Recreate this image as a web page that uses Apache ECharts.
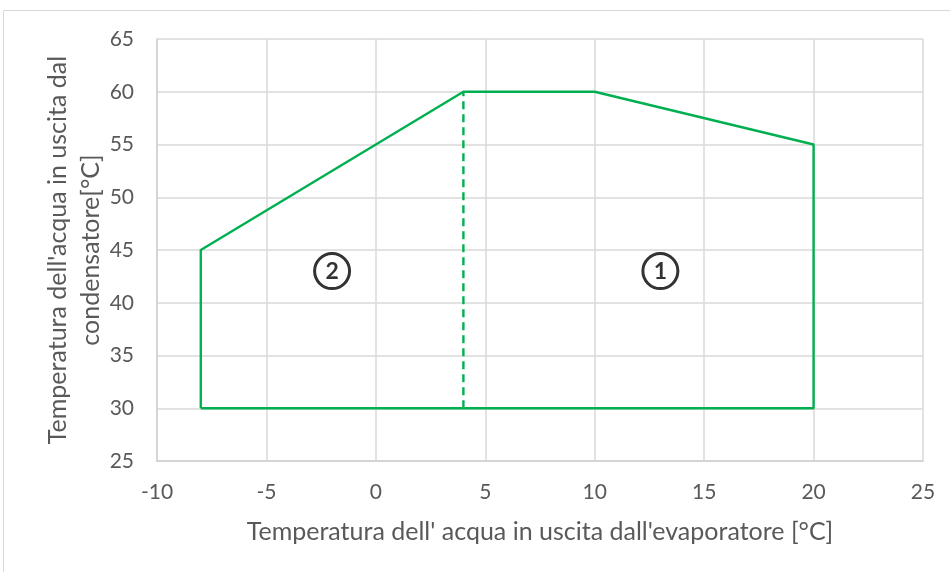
<!DOCTYPE html>
<html>
<head>
<meta charset="utf-8">
<script src="https://cdn.jsdelivr.net/npm/echarts@6/dist/echarts.min.js"></script>
<style>
  html, body { margin: 0; padding: 0; background: #fff; }
  #chart { width: 950px; height: 572px; }
</style>
</head>
<body>
<div id="chart"></div>
<script>
// Operating envelope outline (evaporator outlet temperature, condenser outlet temperature)
const envelopeX = [-8, -8, 4, 10, 20, 20, -8];
const envelopeY = [30, 45, 60, 60, 55, 30, 30];
// Boundary between zone 2 and zone 1
const dividerX = [4, 4];
const dividerY = [30, 60];
// Zone markers
const zoneLabels = ['2', '1'];
const zoneX = [-2, 13];
const zoneY = [43, 43];

const xTitle = "Temperatura dell' acqua in uscita dall'evaporatore [°C]";
const yTitle = "Temperatura dell'acqua in uscita dal\ncondensatore[°C]";

const font = 'Lato, "Open Sans", sans-serif';
const green = '#00B050';

const chart = echarts.init(document.getElementById('chart'));
chart.setOption({
  animation: false,
  backgroundColor: '#fff',
  graphic: [{
    type: 'rect',
    shape: { x: 3.5, y: 10.5, width: 960, height: 580 },
    style: { fill: 'none', stroke: '#d9d9d9', lineWidth: 1 },
    silent: true, z: -10
  }],
  grid: { left: 157, right: 27, top: 39, bottom: 111 },
  xAxis: {
    type: 'value', min: -10, max: 25, interval: 5,
    name: xTitle, nameLocation: 'middle', nameGap: 58,
    nameMoveOverlap: false,
    nameTextStyle: { color: '#595959', fontSize: 25, fontFamily: font },
    axisLine: { show: true, onZero: false, lineStyle: { color: '#d0d0d0', width: 1.5 } },
    axisTick: { show: false },
    axisLabel: { color: '#595959', fontSize: 21, fontFamily: font, margin: 21 },
    splitLine: { show: true, lineStyle: { color: '#d9d9d9', width: 1.5 } }
  },
  yAxis: {
    type: 'value', min: 25, max: 65, interval: 5,
    name: yTitle, nameLocation: 'middle', nameGap: 50,
    nameMoveOverlap: false,
    nameTextStyle: { color: '#595959', fontSize: 25, fontFamily: font, lineHeight: 33 },
    axisLine: { show: true, onZero: false, lineStyle: { color: '#d0d0d0', width: 1.5 } },
    axisTick: { show: false },
    axisLabel: { color: '#595959', fontSize: 21, fontFamily: font, margin: 23 },
    splitLine: { show: true, lineStyle: { color: '#d9d9d9', width: 1.5 } }
  },
  series: [
    {
      type: 'line',
      data: envelopeX.map((x, i) => [x, envelopeY[i]]),
      symbol: 'none',
      lineStyle: { color: green, width: 2.4 },
      z: 3
    },
    {
      type: 'line',
      data: dividerX.map((x, i) => [x, dividerY[i]]),
      symbol: 'none',
      lineStyle: { color: green, width: 2.4, type: [8, 5] },
      z: 3
    },
    {
      type: 'scatter',
      data: zoneLabels.map((t, i) => ({ value: [zoneX[i], zoneY[i]], name: t })),
      symbol: 'circle',
      symbolSize: 35,
      itemStyle: { color: '#fff', borderColor: '#000', borderWidth: 3 },
      label: {
        show: true, position: 'inside',
        formatter: p => p.name,
        color: '#000', fontSize: 23, fontWeight: 'bold', fontFamily: font
      },
      z: 4
    }
  ]
});
</script>
</body>
</html>
